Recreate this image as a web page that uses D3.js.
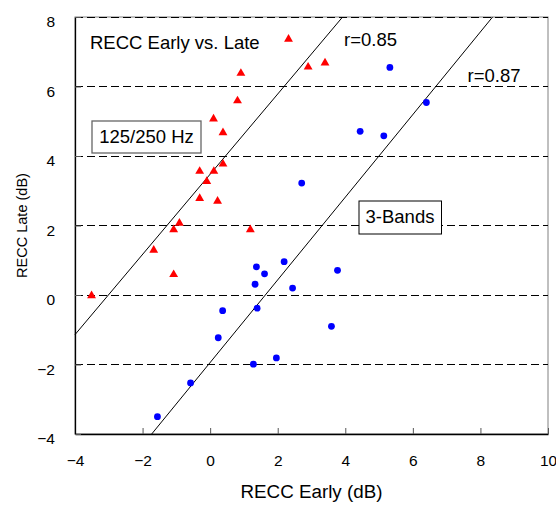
<!DOCTYPE html>
<html>
<head>
<meta charset="utf-8">
<script src="https://cdn.jsdelivr.net/npm/d3@7"></script>
<style>
  html, body { margin: 0; padding: 0; background: #fff; }
  svg { display: block; font-family: "Liberation Sans", Arial, sans-serif; }
</style>
</head>
<body>
<svg id="chart" width="556" height="505"></svg>
<script>
// ---- Data ----
// 125/250 Hz series (red triangles): RECC Early (x), RECC Late (y)
const lowEarly = [2.32, 2.90, 3.40, 0.91, 0.81, 0.10, 0.38, 0.38, -0.31, 0.11, -0.10, -0.31, 0.22, -0.91, -1.08, 1.19, -1.67, -1.08, -3.51];
const lowLate  = [7.36, 6.56, 6.68, 6.38, 5.59, 5.07, 4.67, 3.77, 3.56, 3.56, 3.27, 2.78, 2.70, 2.07, 1.88, 1.88, 1.29, 0.59, -0.02];
// 3-Bands series (blue circles)
const bandEarly = [5.32, 6.40, 4.44, 5.14, 2.71, 1.37, 1.61, 2.19, 1.33, 2.44, 0.37, 1.39, 0.24, 1.96, 1.28, -0.58, -1.56, 3.77, 3.59];
const bandLate  = [6.55, 5.54, 4.71, 4.58, 3.22, 0.81, 0.61, 0.96, 0.31, 0.20, -0.45, -0.38, -1.23, -1.81, -1.99, -2.53, -3.50, 0.71, -0.90];
// Regression lines: endpoints [x, y]
const fitLow  = [[-4, -1.14], [3.92, 8]];
const fitBand = [[-1.73, -4], [8.36, 8]];
// Axis ticks
const xTicks = [-4, -2, 0, 2, 4, 6, 8, 10];
const yTicks = [-4, -2, 0, 2, 4, 6, 8];
const xLabel = "RECC Early (dB)";
const yLabel = "RECC Late (dB)";
const title = "RECC Early vs. Late";
const labelLow = "125/250 Hz";
const labelBand = "3-Bands";
const rLow = "r=0.85";
const rBand = "r=0.87";

// ---- Layout ----
const W = 556, H = 505;
const m = { left: 75, right: 8, top: 17, bottom: 71 };
const iw = W - m.left - m.right, ih = H - m.top - m.bottom;

const svg = d3.select("#chart");
const g = svg.append("g").attr("transform", `translate(${m.left},${m.top})`);

const x = d3.scaleLinear().domain([-4, 10]).range([0, iw]);
const y = d3.scaleLinear().domain([-4, 8]).range([ih, 0]);

// plot area border (gray)
g.append("rect").attr("x", 0).attr("y", 0).attr("width", iw).attr("height", ih)
  .attr("fill", "none").attr("stroke", "#808080").attr("stroke-width", 1);

// dashed gridlines
g.selectAll(".grid").data(yTicks.filter(d => d > -4)).enter().append("line")
  .attr("x1", 0).attr("x2", iw)
  .attr("y1", d => y(d)).attr("y2", d => y(d))
  .attr("stroke", "#000").attr("stroke-width", 1).attr("stroke-dasharray", "8,4")
  .attr("shape-rendering", "crispEdges");

// axes
const xAxis = d3.axisBottom(x).tickValues(xTicks).tickSizeInner(-6).tickSizeOuter(0).tickPadding(21)
  .tickFormat(d3.format("d"));
const gx = g.append("g").attr("transform", `translate(0,${ih})`).call(xAxis);
gx.select(".domain").attr("stroke", "#000").attr("stroke-width", 1.3);
gx.selectAll(".tick line").attr("stroke", "#555");
gx.selectAll("text").attr("font-size", "15.5px").attr("fill", "#000")
  .attr("font-family", "'Liberation Sans', Arial, sans-serif");

const yAxis = d3.axisLeft(y).tickValues(yTicks).tickSizeInner(-6).tickSizeOuter(0).tickPadding(20)
  .tickFormat(d3.format("d"));
const gy = g.append("g").call(yAxis);
gy.select(".domain").attr("stroke", "#000").attr("stroke-width", 1.3);
gy.selectAll(".tick line").attr("stroke", "#555");
gy.selectAll("text").attr("font-size", "15.5px").attr("fill", "#000").attr("dy", "0.62em")
  .attr("font-family", "'Liberation Sans', Arial, sans-serif");

// axis titles
svg.append("text").attr("x", m.left + x(3)).attr("y", 498)
  .attr("text-anchor", "middle").attr("font-size", "18.8px")
  .text(xLabel);
svg.append("text").attr("transform", `translate(27,${m.top + y(2)}) rotate(-90)`)
  .attr("text-anchor", "middle").attr("font-size", "14.5px").text(yLabel);

// regression lines
const lineGen = d3.line().x(d => x(d[0])).y(d => y(d[1]));
[fitLow, fitBand].forEach(f => {
  g.append("path").attr("d", lineGen(f)).attr("fill", "none")
    .attr("stroke", "#000").attr("stroke-width", 1);
});

// points
g.selectAll(".tri").data(lowEarly.map((v, i) => [v, lowLate[i]])).enter().append("path")
  .attr("d", d3.symbol().type(d3.symbolTriangle).size(34))
  .attr("transform", d => `translate(${x(d[0])},${y(d[1])})`)
  .attr("fill", "#ff0000");
g.selectAll(".dot").data(bandEarly.map((v, i) => [v, bandLate[i]])).enter().append("circle")
  .attr("cx", d => x(d[0])).attr("cy", d => y(d[1])).attr("r", 3.4)
  .attr("fill", "#0000ff");

// annotations
svg.append("text").attr("x", 90).attr("y", 49).attr("font-size", "18.5px").text(title);
svg.append("text").attr("x", 344).attr("y", 46).attr("font-size", "18.5px").text(rLow);
svg.append("text").attr("x", 467.5).attr("y", 82).attr("font-size", "18.5px").text(rBand);

svg.append("rect").attr("x", 92).attr("y", 121).attr("width", 109).attr("height", 32)
  .attr("fill", "#fff").attr("stroke", "#666").attr("stroke-width", 1.3);
svg.append("text").attr("x", 146.5).attr("y", 143).attr("text-anchor", "middle")
  .attr("font-size", "18.5px").text(labelLow);

svg.append("rect").attr("x", 359).attr("y", 201).attr("width", 82.5).attr("height", 33)
  .attr("fill", "#fff").attr("stroke", "#000").attr("stroke-width", 1);
svg.append("text").attr("x", 400).attr("y", 223).attr("text-anchor", "middle")
  .attr("font-size", "18.5px").text(labelBand);
</script>
</body>
</html>
